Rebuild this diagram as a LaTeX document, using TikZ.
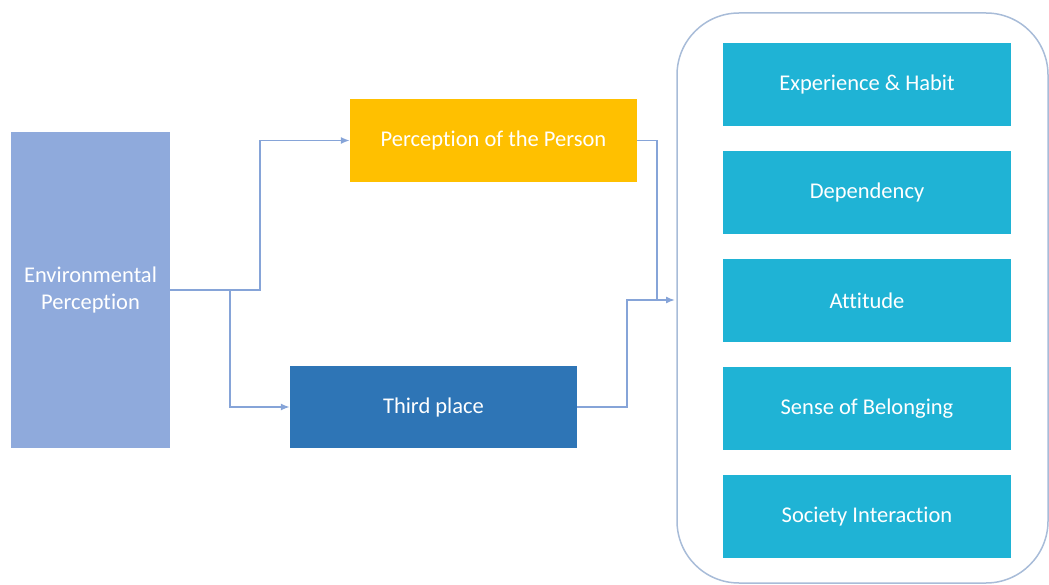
\documentclass[tikz,border=0pt]{standalone}
\usepackage{fontspec}
\setmainfont[Ligatures=NoCommon]{Carlito}
\usepackage{tikz}
\usetikzlibrary{positioning,arrows.meta}
\definecolor{envblue}{HTML}{8FAADC}
\definecolor{personyellow}{HTML}{FFC000}
\definecolor{placeblue}{HTML}{2E75B6}
\definecolor{factorteal}{HTML}{1FB3D5}
\definecolor{linkblue}{HTML}{86A4D8}
\definecolor{framegrey}{HTML}{A8BCD8}

\begin{document}
\begin{tikzpicture}[x=1pt, y=-1pt,
                      every node/.style = {shape=rectangle, align=center,
                        text=white, inner sep=0pt,
                        font=\fontsize{22.5}{27}\selectfont},
                      link/.style = {draw=linkblue, line width=1.5pt},
                      tip/.style = {-{Latex[length=9pt,width=7pt]}},
                      factor/.style = {fill=factorteal,
                        minimum width=288pt, minimum height=83pt}]
                      \useasboundingbox (0,0) rectangle (1049,585);
                      % outer frame round the factors
                      \draw[draw=framegrey, line width=1.5pt, rounded corners=62pt]
                        (677,13) rectangle (1048,583);
                      \coordinate (frame) at (677,300);
                      \node[fill=envblue, minimum width=159pt, minimum height=316pt]
                        (env) at (90.5,290) {Environmental\\Perception};
                      \node[fill=personyellow, minimum width=287pt, minimum height=83pt]
                        (person) at (493.5,140.5) {Perception of the Person};
                      \node[fill=placeblue, minimum width=287pt, minimum height=82pt]
                        (third) at (433.5,407) {Third place};
                      \foreach \name/\label [count=\i from 0] in
                        {habit/Experience \& Habit, dependency/Dependency,
                         attitude/Attitude, belonging/Sense of Belonging,
                         interaction/Society Interaction}
                        \node[factor] (\name) at (867,84.5+108*\i) {\label};
                      % connectors
                      \coordinate (fork) at (230,290);
                      \coordinate (rise) at (260,290);
                      \coordinate (drop) at (657,300);
                      \coordinate (meet) at (627,300);
                      \draw[link,tip] (env.east) -- (rise) |- (person.west);
                      \draw[link,tip] (fork) |- (third.west);
                      \draw[link] (person.east) -| (drop);
                      \draw[link,tip,shorten >=2pt] (third.east) -| (meet) -- (frame);
                    \end{tikzpicture}
\end{document}
